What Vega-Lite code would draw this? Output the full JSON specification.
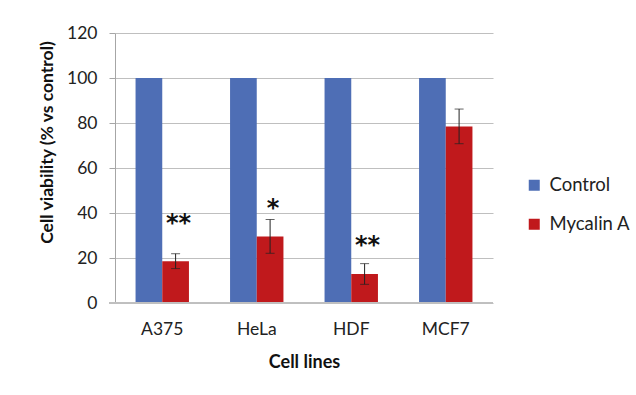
{
  "$schema": "https://vega.github.io/schema/vega-lite/v6.json",
  "width": 378,
  "height": 270,
  "autosize": {"type": "none"},
  "padding": {"left": 115, "top": 33, "right": 143, "bottom": 92},
  "background": "white",
  "config": {
    "font": "Lato",
    "view": {"stroke": null},
    "axis": {"labelFont": "Lato", "titleFont": "Lato", "labelColor": "#222", "titleColor": "#111"}
  },
  "datasets": {
    "bars": [
      {"cell": "A375", "group": "Control", "value": 100},
      {"cell": "A375", "group": "Mycalin A", "value": 18.6},
      {"cell": "HeLa", "group": "Control", "value": 100},
      {"cell": "HeLa", "group": "Mycalin A", "value": 29.6},
      {"cell": "HDF", "group": "Control", "value": 100},
      {"cell": "HDF", "group": "Mycalin A", "value": 12.9},
      {"cell": "MCF7", "group": "Control", "value": 100},
      {"cell": "MCF7", "group": "Mycalin A", "value": 78.5}
    ],
    "errors": [
      {"cell": "A375", "group": "Mycalin A", "lo": 15.3, "hi": 21.9},
      {"cell": "HeLa", "group": "Mycalin A", "lo": 22.1, "hi": 37.1},
      {"cell": "HDF", "group": "Mycalin A", "lo": 8.3, "hi": 17.5},
      {"cell": "MCF7", "group": "Mycalin A", "lo": 70.8, "hi": 86.2}
    ],
    "stars": [
      {"cell": "A375", "group": "Mycalin A", "label": "**", "pos": 37},
      {"cell": "HeLa", "group": "Mycalin A", "label": "*", "pos": 43.5},
      {"cell": "HDF", "group": "Mycalin A", "label": "**", "pos": 27}
    ]
  },
  "encoding": {
    "x": {
      "field": "cell", "type": "nominal", "sort": ["A375", "HeLa", "HDF", "MCF7"],
      "scale": {"paddingInner": 0.435, "paddingOuter": 0.2175},
      "axis": {
        "title": "Cell lines", "titleFontSize": 18, "titleFontWeight": "bold", "titlePadding": 16,
        "labelAngle": 0, "labelFontSize": 17.5, "labelPadding": 17, "ticks": false, "domain": false
      }
    },
    "xOffset": {"field": "group", "type": "nominal", "sort": ["Control", "Mycalin A"]}
  },
  "layer": [
    {
      "data": {"name": "bars"},
      "mark": {"type": "bar"},
      "encoding": {
        "y": {
          "field": "value", "type": "quantitative",
          "scale": {"domain": [0, 120], "nice": false},
          "axis": {
            "title": "Cell viability (% vs control)", "titleFontSize": 17.5, "titleFontWeight": "bold",
            "titleAngle": -90, "titleX": -68, "titleY": 109, "titleAlign": "center", "titleBaseline": "middle",
            "values": [0, 20, 40, 60, 80, 100, 120], "labelFontSize": 17.5, "labelPadding": 12,
            "tickSize": 6, "tickColor": "#a6a6a6", "domainColor": "#a6a6a6",
            "gridColor": "#bfbfbf", "gridWidth": 1.2, "grid": true
          }
        },
        "color": {
          "field": "group", "type": "nominal",
          "scale": {"domain": ["Control", "Mycalin A"], "range": ["#4e6eb5", "#c0191c"]},
          "legend": {
            "title": null, "orient": "none", "legendX": 410, "legendY": 143,
            "symbolType": "square", "symbolSize": 121, "symbolStrokeWidth": 0,
            "labelFontSize": 18.5, "labelColor": "#222", "rowPadding": 20, "labelOffset": 6
          }
        }
      }
    },
    {
      "data": {"name": "bars"},
      "mark": {"type": "rule", "color": "#bfbfbf", "strokeWidth": 1.2},
      "encoding": {"y": {"datum": 0, "type": "quantitative"}, "x": {"value": -6}, "x2": {"value": 378}, "xOffset": null}
    },
    {
      "data": {"name": "errors"},
      "mark": {"type": "rule", "color": "#222", "strokeWidth": 1},
      "encoding": {"y": {"field": "lo", "type": "quantitative"}, "y2": {"field": "hi"}}
    },
    {
      "data": {"name": "errors"},
      "mark": {"type": "tick", "color": "#222", "orient": "horizontal", "size": 9, "thickness": 1},
      "encoding": {"y": {"field": "lo", "type": "quantitative"}}
    },
    {
      "data": {"name": "errors"},
      "mark": {"type": "tick", "color": "#222", "orient": "horizontal", "size": 9, "thickness": 1},
      "encoding": {"y": {"field": "hi", "type": "quantitative"}}
    },
    {
      "data": {"name": "stars"},
      "mark": {"type": "text", "font": "DejaVu Sans", "fontWeight": "bold", "fontSize": 24, "baseline": "middle", "color": "#111", "dy": 4, "dx": 3},
      "encoding": {"y": {"field": "pos", "type": "quantitative"}, "text": {"field": "label"}}
    }
  ]
}
